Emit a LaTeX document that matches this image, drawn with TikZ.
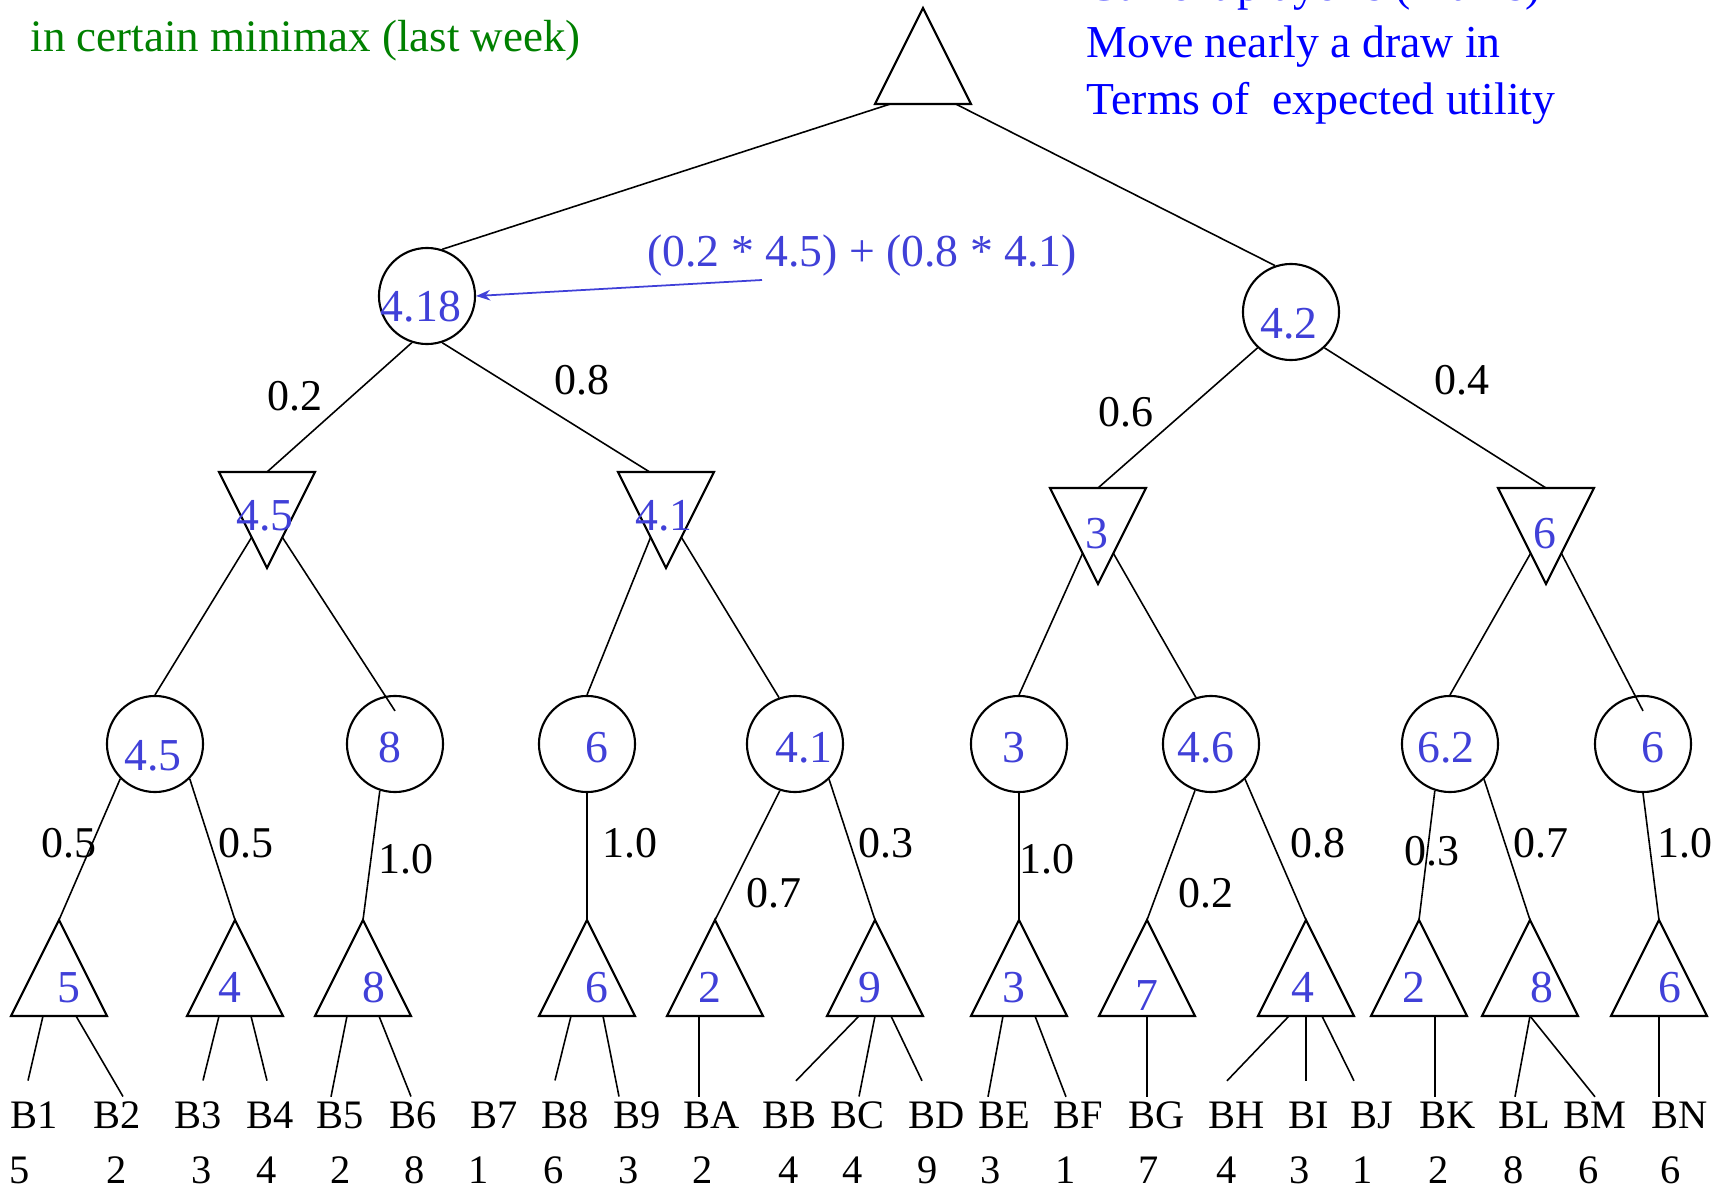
\documentclass[tikz,border=0pt]{standalone}
\usepackage{fontspec}
\setmainfont{Liberation Serif}
\usetikzlibrary{calc, arrows.meta}

\definecolor{valblue}{RGB}{64,64,216}
\definecolor{notegreen}{RGB}{0,128,0}
\definecolor{noteblue}{RGB}{0,0,255}

\tikzset{
  edge/.style={line width=0.45pt},
  shapeline/.style={line width=0.6pt},
  chance/.style={circle, draw, shapeline, minimum size=0.96cm, inner sep=0pt},
  val/.style={text=valblue, font=\fontsize{13}{13}\selectfont, inner sep=0pt, anchor=base},
  prob/.style={font=\fontsize{12.5}{12.5}\selectfont, inner sep=0pt, anchor=base},
  leaf/.style={font=\fontsize{11.5}{11.5}\selectfont, inner sep=0pt, anchor=base},
  note/.style={font=\fontsize{13}{13}\selectfont, inner sep=0pt, anchor=base west},
  maxtri/.pic={
    \draw[shapeline] (0,-48) coordinate (-a) -- (48,48) coordinate (-r)
      -- (-48,48) coordinate (-l) -- cycle;
    \coordinate (-b) at (0,48);
  },
  mintri/.pic={
    \draw[shapeline] (0,48) coordinate (-a) -- (-48,-48) coordinate (-l)
      -- (48,-48) coordinate (-r) -- cycle;
    \coordinate (-t) at (0,-48);
  },
}

\begin{document}
\begin{tikzpicture}[x=0.01cm, y=-0.01cm, >={Stealth[length=4pt, width=3pt]}]
    \useasboundingbox (0,0) rectangle (1723,1194);
    \clip (0,0) rectangle (1723,1194);

    % Ghi chú phía trên
    \node[note, text=notegreen, font=\fontsize{12.8}{12.8}\selectfont] (gnote) at (30,52) {in certain minimax (last week)};
    \node[note, text=noteblue] (bnote1) at (1086,1) {Current player's (Max's)};
    \node[note, text=noteblue] (bnote2) at (1086,58) {Move nearly a draw in};
    \node[note, text=noteblue] (bnote3) at (1086,115) {Terms of\hspace{0.49em}expected utility};

    % Gốc MAX và hai nút chance
    \pic (r) at (923,56) {maxtri};
    \node[chance] (c0) at (427,296) {};
    \node[chance] (c1) at (1291,312) {};
    \node[val] (v0) at (421,322) {4.18};
    \node[val] (v1) at (1289,339) {4.2};
    \draw[edge] ($(r-l)!0.16!(r-r)$) -- (c0.72);
    \draw[edge] ($(r-l)!0.84!(r-r)$) -- (c1.109);

    % Công thức kỳ vọng
    \node[val] (fml) at (862,267) {(0.2 * 4.5) + (0.8 * 4.1)};
    \coordinate (fml-tail) at (762,280);
    \draw[->, valblue, line width=0.5pt] (fml-tail) -- (c0.east);

    % Các nút MIN
    \pic (m1) at (267,520) {mintri};
    \pic (m2) at (666,520) {mintri};
    \pic (m3) at (1098,536) {mintri};
    \pic (m4) at (1546,536) {mintri};
    \node[val] (vm1) at (265,531) {4.5};
    \node[val] (vm2) at (664,531) {4.1};
    \node[val] (vm3) at (1097,548) {3};
    \node[val] (vm4) at (1545,548) {6};
    \draw[edge] (c0.-108) -- (m1-t);
    \draw[edge] (c0.-72) -- ($(m2-l)!0.33!(m2-r)$);
    \draw[edge] (c1.-133) -- (m3-t);
    \draw[edge] (c1.-47) -- (m4-t);

    % Các nút chance tầng dưới
    \foreach \n/\x in {p1/155, p2/395, p3/587, p4/795, p5/1019, p6/1211, p7/1450, p8/1643}
        \node[chance] (\n) at (\x,744) {};
    \foreach \x/\y/\v [count=\i] in {153/770/4.5, 390/762/8, 597/762/6, 804/762/4.1,
        1014/762/3, 1206/762/4.6, 1446/762/6.2, 1653/762/6}
        \node[val] (vp\i) at (\x,\y) {\v};
    \draw[edge] ($(m1-l)!0.68!(m1-a)$) -- (p1.north);
    \draw[edge] ($(m1-r)!0.68!(m1-a)$) -- ($(p2.north)+(0,16)$);
    \draw[edge] ($(m2-l)!0.68!(m2-a)$) -- (p3.north);
    \draw[edge] ($(m2-r)!0.68!(m2-a)$) -- (p4.109);
    \draw[edge] ($(m3-l)!0.68!(m3-a)$) -- (p5.north);
    \draw[edge] ($(m3-r)!0.68!(m3-a)$) -- (p6.108);
    \draw[edge] ($(m4-l)!0.68!(m4-a)$) -- (p7.north);
    \draw[edge] ($(m4-r)!0.68!(m4-a)$) -- ($(p8.north)+(0,16)$);

    % Các nút MAX ở lá
    \foreach \n/\x in {t1/59, t2/235, t3/363, t4/587, t5/715, t6/875, t7/1019,
        t8/1147, t9/1306, t10/1419, t11/1530, t12/1659}
        \pic (\n) at (\x,968) {maxtri};
    \foreach \x/\y/\v [count=\i] in {69/1002/5, 230/1002/4, 374/1002/8, 597/1002/6,
        710/1002/2, 870/1002/9, 1014/1002/3, 1147/1010/7, 1303/1002/4, 1414/1002/2,
        1542/1002/8, 1670/1002/6}
        \node[val] (vt\i) at (\x,\y) {\v};
    \draw[edge] (p1.-135) -- (t1-a);
    \draw[edge] (p1.-45) -- (t2-a);
    \draw[edge] (p2.-108) -- (t3-a);
    \draw[edge] (p3.south) -- (t4-a);
    \draw[edge] (p4.-108) -- (t5-a);
    \draw[edge] (p4.-46) -- (t6-a);
    \draw[edge] (p5.south) -- (t7-a);
    \draw[edge] (p6.-109) -- (t8-a);
    \draw[edge] (p6.-46) -- (t9-a);
    \draw[edge] (p7.-108) -- (t10-a);
    \draw[edge] (p7.-46) -- (t11-a);
    \draw[edge] (p8.south) -- (t12-a);

    % Xác suất trên các cạnh
    \foreach \x/\y/\v [count=\i] in {295/410/0.2, 582/395/0.8, 1126/427/0.6, 1462/395/0.4,
        69/857/0.5, 246/857/0.5, 406/873/1.0, 630/857/1.0, 774/907/0.7, 886/857/0.3,
        1047/873/1.0, 1206/907/0.2, 1318/857/0.8, 1432/865/0.3, 1541/857/0.7, 1685/857/1.0}
        \node[prob] (q\i) at (\x,\y) {\v};

    % Nhãn lá và giá trị
    \foreach \n/\x/\xx/\v in {B1/34/20/5, B2/117/117/2, B3/198/202/3, B4/270/267/4,
        B5/340/341/2, B6/413/415/8, B7/494/479/1, B8/565/554/6, B9/637/629/3,
        BA/712/703/2, BB/789/789/4, BC/857/853/4, BD/937/928/9, BE/1004/991/3,
        BF/1078/1066/1, BG/1157/1149/7, BH/1237/1227/4, BI/1309/1300/3, BJ/1372/1363/1,
        BK/1448/1439/2, BL/1524/1514/8, BM/1595/1589/6, BN/1680/1671/6}
    {
        \node[leaf] (\n) at (\x,1128) {\n};
        \node[leaf] (\n-u) at (\xx,1183) {\v};
    }
    \foreach \tri/\dx/\n/\ox/\oy in {t1/-16/B1/-6/-20, t1/17/B2/6/-4, t2/-16/B3/5/-20,
        t2/16/B4/-3/-20, t3/-16/B5/-9/-4, t3/16/B6/-2/-4, t4/-16/B8/-10/-20,
        t4/16/B9/-18/-4, t5/-16/BA/-13/-4, t6/-16/BB/7/-20, t6/0/BC/2/-4,
        t6/16/BD/-15/-20, t7/-16/BE/-16/-4, t7/16/BF/-12/-4, t8/0/BG/-10/-4,
        t9/-17/BH/-10/-20, t9/0/BI/-3/-20, t9/16/BJ/-18/-20, t10/16/BK/-13/-4,
        t11/0/BL/-9/-4, t11/0/BM/0/-4, t12/0/BN/-21/-4}
        \draw[edge] ($(\tri-b)+(\dx,0)$) -- ($(\n.north)+(\ox,\oy)$);
\end{tikzpicture}
\end{document}
